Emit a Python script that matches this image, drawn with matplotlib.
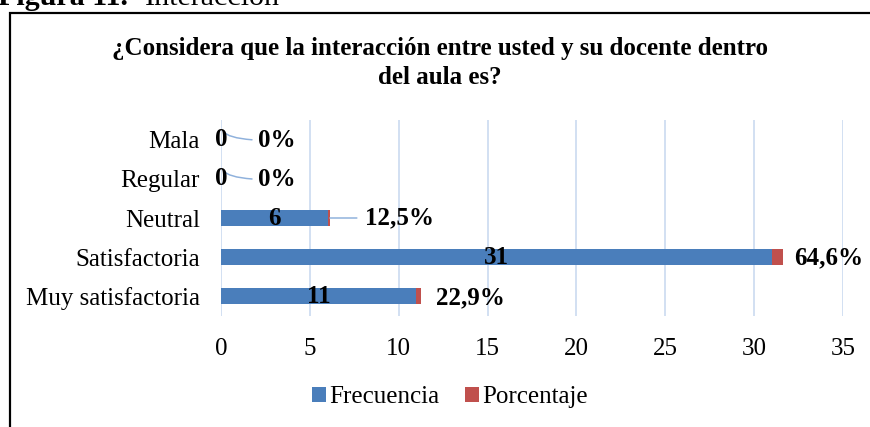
import matplotlib
matplotlib.use("Agg")
import matplotlib.pyplot as plt
from matplotlib.patches import Rectangle
from matplotlib.transforms import offset_copy

categories = ["Muy satisfactoria", "Satisfactoria", "Neutral", "Regular", "Mala"]
frecuencia = [11, 31, 6, 0, 0]
porcentaje = [22.9, 64.6, 12.5, 0, 0]
xticks = [0, 5, 10, 15, 20, 25, 30, 35]
title = "¿Considera que la interacción entre usted y su docente dentro\ndel aula es?"

BLUE = "#4A7EBB"
RED = "#C0504D"
GRID = "#D3E0F2"
LEADER = "#8FB1DC"

plt.rcParams["font.family"] = ["Liberation Serif", "DejaVu Serif"]

W, H = 870, 427
FS = 25
fig = plt.figure(figsize=(W / 72, H / 72), dpi=72)

# figure frame and caption
fig.patches.append(Rectangle((10 / W, -0.05), 1.0, (H - 13) / H + 0.05, transform=fig.transFigure,
                             fill=False, edgecolor="black", linewidth=2.2))
fig.text(-2 / W, 1 - 5 / H, "Figura 11.", fontsize=30, fontweight="bold", va="baseline", ha="left")
fig.text(145 / W, 1 - 5 / H, "Interacción", fontsize=30, va="baseline", ha="left")

ax = fig.add_axes([221 / W, 1 - 316 / H, (843 - 221) / W, (316 - 120) / H])
y = list(range(len(categories)))
frac = [p / 100 for p in porcentaje]
ax.barh(y, frecuencia, height=0.41, color=BLUE, label="Frecuencia", zorder=3)
ax.barh(y, frac, left=frecuencia, height=0.41, color=RED, label="Porcentaje", zorder=3)

ax.set_xlim(0, 35)
ax.set_ylim(-0.5, len(categories) - 0.5)
ax.set_xticks(xticks)
ax.set_xticklabels([str(t) for t in xticks], fontsize=FS)
ax.set_yticks(y)
ax.set_yticklabels(categories, fontsize=FS)
ax.tick_params(axis="both", length=0)
ax.tick_params(axis="x", pad=22)
ax.tick_params(axis="y", pad=21)
for s in ax.spines.values():
    s.set_visible(False)
ax.grid(axis="x", color=GRID, linewidth=2, zorder=0)
ax.set_axisbelow(True)

curve_tr = offset_copy(ax.transData, fig=fig, x=3, y=8, units="points")

for yi, f, p, fr in zip(y, frecuencia, porcentaje, frac):
    ax.text(f / 2, yi, str(f), ha="center", va="center", fontsize=FS, fontweight="bold", zorder=5)
    lab = (f"{p:.1f}".replace(".", ",") if p % 1 else f"{int(p)}") + "%"
    end = f + fr
    if p == 0:
        ax.annotate(lab, xy=(end, yi), xycoords=curve_tr, xytext=(34, -9), textcoords="offset points",
                    ha="left", va="center", fontsize=FS, fontweight="bold",
                    arrowprops=dict(arrowstyle="-", color=LEADER, lw=1.5, shrinkA=4, shrinkB=0,
                                    connectionstyle="angle3,angleA=0,angleB=-60"))
    elif p < 20:
        ax.annotate(lab, xy=(end, yi), xytext=(35, 0), textcoords="offset points",
                    ha="left", va="center", fontsize=FS, fontweight="bold",
                    arrowprops=dict(arrowstyle="-", color=LEADER, lw=1.5, shrinkA=6, shrinkB=0))
    else:
        ax.annotate(lab, xy=(end, yi), xytext=(11 if p > 50 else 15, -1), textcoords="offset points",
                    ha="left", va="center", fontsize=FS, fontweight="bold")

fig.text(440 / W, 1 - 63 / H, title, ha="center", va="center", fontsize=FS, fontweight="bold",
         linespacing=1.32)

handles, labels = ax.get_legend_handles_labels()
fig.legend(handles, labels, loc="center", bbox_to_anchor=(450 / W, 1 - 397 / H), ncol=2,
           frameon=False, fontsize=FS, handlelength=0.55, handleheight=0.55, handletextpad=0.15,
           columnspacing=1.0)

fig.savefig("out.png", dpi=72)
